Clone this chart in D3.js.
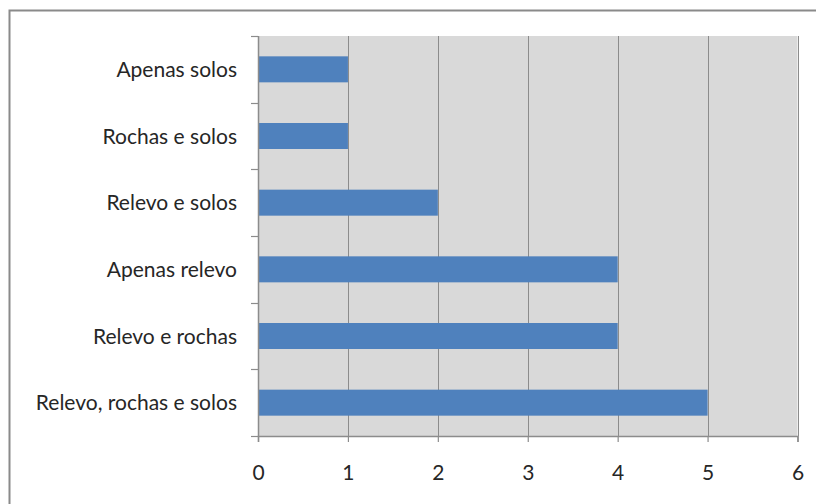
<!DOCTYPE html>
<html>
<head>
<meta charset="utf-8">
<script src="https://cdn.jsdelivr.net/npm/d3@7/dist/d3.min.js"></script>
<style>
  html, body { margin: 0; padding: 0; background: #fff; }
  svg { display: block; }
  text { font-family: Lato, "Open Sans", sans-serif; fill: #262626; }
</style>
</head>
<body>
<svg id="chart" width="816" height="504"></svg>
<script>
// Categories listed top to bottom
const categories = [
  "Apenas solos",
  "Rochas e solos",
  "Relevo e solos",
  "Apenas relevo",
  "Relevo e rochas",
  "Relevo, rochas e solos"
];
const values = [1, 1, 2, 4, 4, 5];
const xTicks = [0, 1, 2, 3, 4, 5, 6];

const svg = d3.select("#chart");
const W = 816, H = 504;
const margin = { top: 36, right: 18, bottom: 68, left: 258 };
const innerW = 797.5 - margin.left;
const innerH = 436 - margin.top;
const fontSize = "21px";

// Chart frame
svg.append("rect")
  .attr("x", 9.5).attr("y", 10.5)
  .attr("width", W + 10).attr("height", H + 10)
  .attr("fill", "none")
  .attr("stroke", "#8a8a8a")
  .attr("stroke-width", 2);

const g = svg.append("g").attr("transform", `translate(${margin.left},${margin.top})`);

const x = d3.scaleLinear().domain([0, 6]).range([0, innerW]);
const y = d3.scaleBand().domain(categories).range([0, innerH]).paddingInner(0.61).paddingOuter(0.305);
const yb = d3.scaleBand().domain(categories).range([0, innerH]);

// Plot background
g.append("rect")
  .attr("width", innerW).attr("height", innerH)
  .attr("fill", "#d9d9d9");

// Vertical gridlines
g.append("g")
  .selectAll("line")
  .data(xTicks.slice(1))
  .join("line")
  .attr("x1", d => Math.round(x(d)) + 0.5).attr("x2", d => Math.round(x(d)) + 0.5)
  .attr("y1", 0).attr("y2", innerH)
  .attr("stroke", "#8c8c8c")
  .attr("stroke-width", 1);

// Bars
g.append("g")
  .selectAll("rect")
  .data(categories)
  .join("rect")
  .attr("x", 0)
  .attr("y", d => y(d))
  .attr("width", (d, i) => x(values[i]))
  .attr("height", y.bandwidth())
  .attr("fill", "#4f81bd");

// X axis
const xAxis = g.append("g")
  .attr("transform", `translate(0,${innerH})`)
  .call(d3.axisBottom(x).tickValues(xTicks).tickSize(6).tickPadding(23).tickFormat(d3.format("d")));
xAxis.select(".domain").attr("stroke", "#8c8c8c").attr("stroke-width", 1.5);
xAxis.selectAll(".tick line").attr("stroke", "#8c8c8c").attr("stroke-width", 1.2);
xAxis.selectAll(".tick text").style("font-size", fontSize).attr("fill", "#262626");

// Y axis: ticks at category boundaries
const bounds = categories.map(c => yb(c)).concat([innerH]);
const yAxisG = g.append("g");
yAxisG.append("line")
  .attr("x1", 0.5).attr("x2", 0.5).attr("y1", 0).attr("y2", innerH)
  .attr("stroke", "#8c8c8c").attr("stroke-width", 1.5);
yAxisG.selectAll("line.tk")
  .data(bounds)
  .join("line").attr("class", "tk")
  .attr("x1", -7).attr("x2", 0)
  .attr("y1", d => Math.round(d) + 0.5).attr("y2", d => Math.round(d) + 0.5)
  .attr("stroke", "#8c8c8c").attr("stroke-width", 1.2);
yAxisG.selectAll("text")
  .data(categories)
  .join("text")
  .attr("x", -21)
  .attr("y", d => yb(d) + yb.bandwidth() / 2)
  .attr("dy", "0.36em")
  .attr("text-anchor", "end")
  .style("font-size", fontSize)
  .text(d => d);
</script>
</body>
</html>
